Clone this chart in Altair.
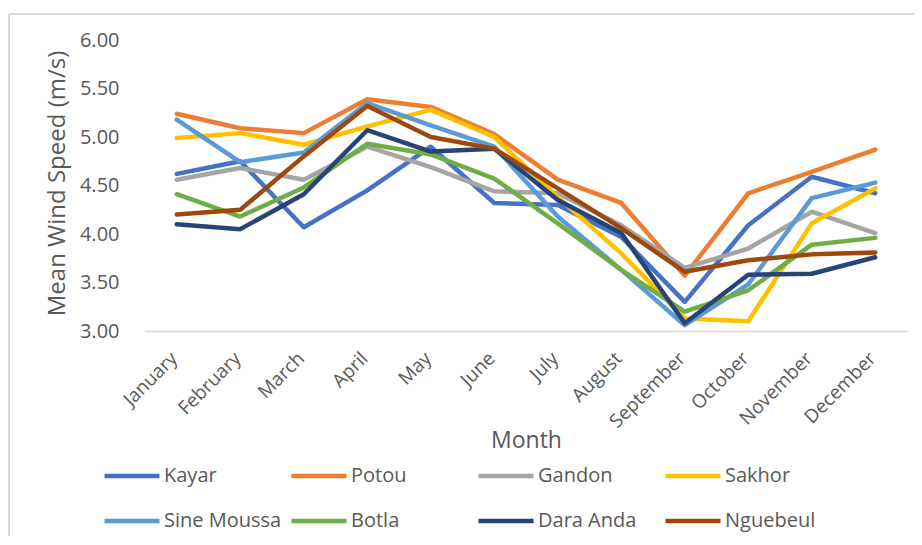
import altair as alt
import pandas as pd

months = ["January", "February", "March", "April", "May", "June", "July",
          "August", "September", "October", "November", "December"]

sites = ["Kayar", "Potou", "Gandon", "Sakhor", "Sine Moussa", "Botla",
         "Dara Anda", "Nguebeul"]
colors = ["#4472C4", "#ED7D31", "#A5A5A5", "#FFC000", "#5B9BD5", "#70AD47",
          "#264478", "#9E480E"]

kayar = [4.62, 4.75, 4.07, 4.45, 4.90, 4.32, 4.30, 3.97, 3.30, 4.09, 4.59, 4.42]
potou = [5.24, 5.09, 5.04, 5.39, 5.31, 5.03, 4.56, 4.32, 3.57, 4.42, 4.64, 4.87]
gandon = [4.56, 4.68, 4.56, 4.90, 4.69, 4.44, 4.42, 4.09, 3.65, 3.85, 4.23, 4.01]
sakhor = [4.99, 5.04, 4.92, 5.11, 5.28, 5.00, 4.38, 3.80, 3.13, 3.10, 4.11, 4.47]
sine_moussa = [5.18, 4.74, 4.84, 5.35, 5.12, 4.90, 4.18, 3.63, 3.06, 3.48, 4.37, 4.53]
botla = [4.41, 4.18, 4.48, 4.93, 4.82, 4.57, 4.11, 3.63, 3.20, 3.42, 3.89, 3.96]
dara_anda = [4.10, 4.05, 4.41, 5.07, 4.85, 4.88, 4.35, 4.01, 3.08, 3.58, 3.59, 3.76]
nguebeul = [4.20, 4.25, 4.80, 5.32, 5.00, 4.88, 4.47, 4.06, 3.61, 3.73, 3.79, 3.81]

series = [kayar, potou, gandon, sakhor, sine_moussa, botla, dara_anda, nguebeul]

rows = []
for i, (site, vals) in enumerate(zip(sites, series)):
    for m, v in zip(months, vals):
        rows.append({"Month": m, "Site": site, "Speed": v, "order": i})
df = pd.DataFrame(rows)

FONT = "Open Sans"
GRAY = "#595959"

lines = alt.Chart(df).mark_line(
    strokeWidth=4.5, strokeCap="round", strokeJoin="round"
).encode(
    x=alt.X("Month:N", sort=months,
            scale=alt.Scale(type="point", padding=0.5),
            axis=alt.Axis(title="Month", labelAngle=-45, labelAlign="right",
                          labelBaseline="middle", labelPadding=24,
                          labelOffset=-3,
                          ticks=False, domainColor="#D9D9D9", domainWidth=1.5,
                          labelFont=FONT, labelFontSize=19, labelColor=GRAY,
                          titleFont=FONT, titleFontSize=23, titleColor=GRAY,
                          titleFontWeight="normal", titleY=109,
                          titleBaseline="middle", grid=False)),
    y=alt.Y("Speed:Q",
            scale=alt.Scale(domain=[3, 6], nice=False, zero=False),
            axis=alt.Axis(title="Mean Wind Speed (m/s)", values=[3, 3.5, 4, 4.5, 5, 5.5, 6],
                          format=".2f", ticks=False, domain=False, grid=False,
                          labelPadding=26, labelFont=FONT, labelFontSize=20,
                          labelColor=GRAY, titleFont=FONT, titleFontSize=24,
                          titleColor=GRAY, titleFontWeight="normal",
                          titleX=-88, titleY=143, titleBaseline="middle")),
    color=alt.Color("Site:N", sort=sites,
                    scale=alt.Scale(domain=sites, range=colors),
                    legend=alt.Legend(title=None, orient="none", legendX=-45,
                                      legendY=426, direction="horizontal",
                                      columns=4, symbolType="M-1,0H9",
                                      symbolSize=121, symbolStrokeWidth=4.5,
                                      labelFont=FONT, labelFontSize=20,
                                      labelColor=GRAY, labelOffset=44,
                                      columnPadding=0, rowPadding=25,
                                      gridAlign="all", padding=0,
                                      labelLimit=300)),
    order=alt.Order("order:Q"),
)

border_top = alt.Chart(df).mark_rule(color="#D9D9D9", strokeWidth=1.5).encode(
    x=alt.value(-136), x2=alt.value(800), y=alt.value(-26))
border_left = alt.Chart(df).mark_rule(color="#D9D9D9", strokeWidth=1.5).encode(
    x=alt.value(-136), y=alt.value(-26), y2=alt.value(600))

chart = alt.layer(border_top, border_left, lines).properties(
    width=762, height=291,
    autosize=alt.AutoSizeParams(type="none"),
    padding={"left": 137, "top": 32, "right": 7, "bottom": 205},
).configure_view(stroke=None)

chart.save("out.html", embed_options={"renderer": "svg", "actions": False})
